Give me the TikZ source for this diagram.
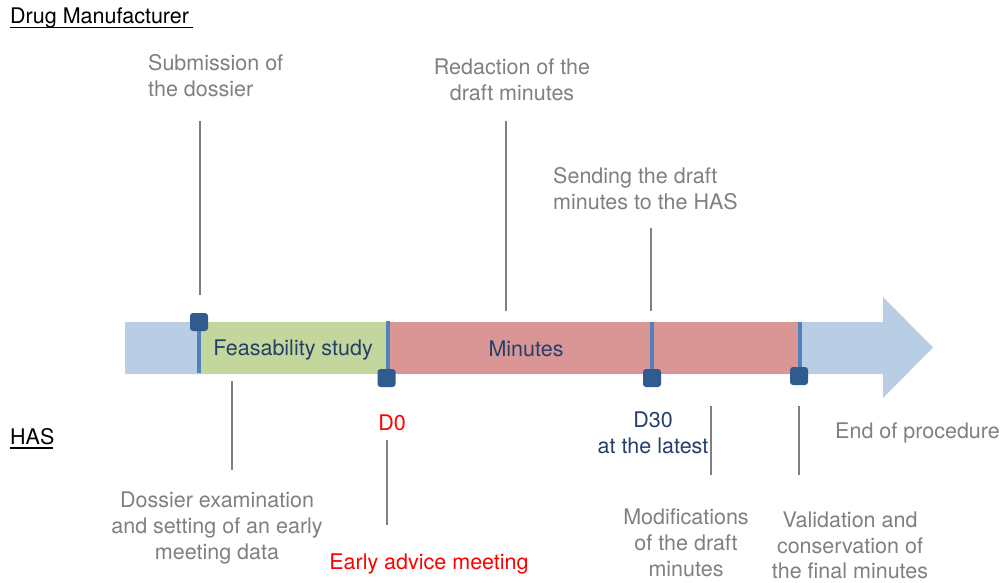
\documentclass[tikz,border=0pt]{standalone}
\usepackage{fontspec}
\setmainfont{TeX Gyre Heros}
\definecolor{grayT}{HTML}{808080}
\definecolor{navyT}{HTML}{263F6A}
\definecolor{redT}{HTML}{FF0000}
\definecolor{arrowB}{HTML}{B9CDE5}
\definecolor{greenB}{HTML}{C3D69B}
\definecolor{redB}{HTML}{D99694}
\definecolor{barB}{HTML}{4F81BD}
\definecolor{sqB}{HTML}{2F5B8F}
\begin{document}
\begin{tikzpicture}[x=1pt,y=-1pt,
  txt/.style={inner sep=0pt, font=\fontsize{21.5}{25.8}\selectfont, text=grayT},
  lbl/.style={txt, text=navyT},
  redlbl/.style={txt, text=redT},
  hdr/.style={txt, text=black},
  tick/.style={draw=grayT, line width=1.5pt},
  bar/.style={draw=barB, line width=3.2pt},
  marker/.style={fill=sqB, draw=none, rounded corners=3pt, minimum size=18pt, inner sep=0pt},
  uline/.style={draw=black, line width=1.3pt}]
\useasboundingbox (0,0) rectangle (1001,582);
\fill[white] (0,0) rectangle (1001,582);
% main arrow
\fill[arrowB] (125,322) -- (883,322) -- (883,297) -- (933,347.5) -- (883,398) -- (883,374) -- (125,374) -- cycle;
\fill[greenB] (198,322) rectangle (388,374);
\fill[redB] (388,322) rectangle (800,374);
% bars
\coordinate (b1t) at (199,322); \coordinate (b1b) at (199,373);
\coordinate (b2t) at (388,321); \coordinate (b2b) at (388,370);
\coordinate (b3t) at (652,322); \coordinate (b3b) at (652,378);
\coordinate (b4t) at (800,322); \coordinate (b4b) at (800,376);
\draw[bar] (b1t) -- (b1b);
\draw[bar] (b2t) -- (b2b);
\draw[bar] (b3t) -- (b3b);
\draw[bar] (b4t) -- (b4b);
% markers
\node[marker] (m1) at (199,322) {};
\node[marker] (m2) at (386.5,378) {};
\node[marker] (m3) at (652,378) {};
\node[marker] (m4) at (799,376) {};
% bar labels
\node[lbl, anchor=base] (feas) at (293,355) {Feasability study};
\node[lbl, anchor=base] (mins) at (526,356) {Minutes};
% headers
\node[hdr, anchor=base west] (dm) at (10,23) {Drug Manufacturer};
\draw[uline] (10,27.5) -- (193,27.5);
\node[hdr, anchor=base west] (has) at (10,444) {HAS};
\draw[uline] (10,448) -- (53,448);
% top texts
\node[txt, anchor=north west, align=left] (sub) at (148,54) {Submission of\\the dossier};
\node[txt, anchor=north, align=center] (red) at (512,59) {Redaction of the\\draft minutes};
\node[txt, anchor=north west, align=left] (send) at (553,167) {Sending the draft\\minutes to the HAS};
% bottom texts
\node[redlbl, anchor=base] (d0) at (392,430) {D0};
\node[lbl, anchor=north, align=center] (d30) at (653,412) {D30\\at the latest};
\node[txt, anchor=base west] (end) at (835,438) {End of procedure};
\node[txt, anchor=north, align=center] (dex) at (217,492) {Dossier examination\\and setting of an early\\meeting data};
\node[redlbl, anchor=base] (eam) at (429,569) {Early advice meeting};
\node[txt, anchor=north, align=center] (mod) at (686,509) {Modifications\\of the draft\\minutes};
\node[txt, anchor=north, align=center, font=\fontsize{21.5}{25.3}\selectfont] (val) at (850,512) {Validation and\\conservation of\\the final minutes};
% tick lines
\coordinate (t1a) at (200,121); \coordinate (t1b) at (200,295);
\coordinate (t2a) at (506,121); \coordinate (t2b) at (506,311);
\coordinate (t3a) at (651,228); \coordinate (t3b) at (651,311);
\coordinate (t4a) at (232,381); \coordinate (t4b) at (232,470);
\coordinate (t5a) at (387,440); \coordinate (t5b) at (387,525);
\coordinate (t6a) at (711,406); \coordinate (t6b) at (711,475);
\coordinate (t7a) at (799,406); \coordinate (t7b) at (799,475);
\draw[tick] (t1a) -- (t1b);
\draw[tick] (t2a) -- (t2b);
\draw[tick] (t3a) -- (t3b);
\draw[tick] (t4a) -- (t4b);
\draw[tick] (t5a) -- (t5b);
\draw[tick] (t6a) -- (t6b);
\draw[tick] (t7a) -- (t7b);
\end{tikzpicture}
\end{document}
